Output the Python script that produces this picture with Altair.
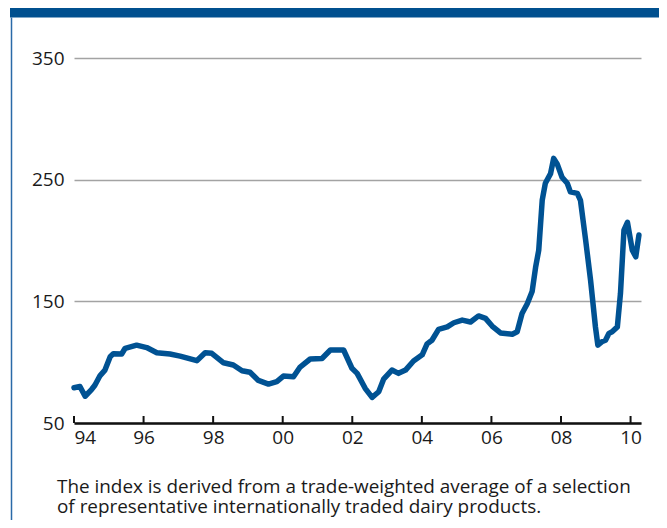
import altair as alt
import pandas as pd

# Dairy price index (decimal years)
years = [1994.00, 1994.17, 1994.32, 1994.51, 1994.60, 1994.75, 1994.89, 1995.04, 1995.13, 1995.37,
         1995.47, 1995.80, 1996.09, 1996.38, 1996.76, 1997.05, 1997.53, 1997.77, 1997.96, 1998.30,
         1998.58, 1998.83, 1999.06, 1999.30, 1999.59, 1999.83, 2000.02, 2000.31, 2000.50, 2000.79,
         2001.13, 2001.37, 2001.75, 2001.99, 2002.14, 2002.37, 2002.57, 2002.76, 2002.90, 2003.14,
         2003.33, 2003.53, 2003.76, 2004.01, 2004.15, 2004.29, 2004.48, 2004.73, 2004.92, 2005.16,
         2005.40, 2005.63, 2005.83, 2006.02, 2006.26, 2006.60, 2006.74, 2006.88, 2007.03, 2007.17,
         2007.27, 2007.36, 2007.46, 2007.55, 2007.70, 2007.79, 2007.89, 2008.03, 2008.18, 2008.27,
         2008.47, 2008.56, 2008.71, 2008.85, 2008.99, 2009.06, 2009.19, 2009.28, 2009.38, 2009.47,
         2009.62, 2009.71, 2009.81, 2009.91, 2010.05, 2010.15, 2010.24]
index = [79, 80, 72, 77.7, 81, 89, 93.5, 104.5, 107, 106.7,
         111.4, 114, 112, 107.8, 106.7, 105, 101.2, 107.8, 107.3, 99.5,
         97.7, 93, 91.7, 85, 82, 84, 88.6, 88, 96, 102.6,
         103, 110, 110, 95, 90.8, 78.5, 71, 75.7, 86, 93.5,
         90.8, 93.5, 101, 106, 115, 118, 127, 129, 132.4, 134.6,
         133, 138, 136, 129.7, 124, 123, 125, 140, 148, 158,
         178, 192, 233, 247, 255, 267.5, 263, 252, 247, 240,
         238.7, 233, 200, 167.5, 129, 114, 117, 118, 123.7, 125,
         129, 156.6, 208.6, 215, 192, 186.6, 204.5]

tick_years = list(range(1994, 2011, 2))
y_ticks = [50, 150, 250, 350]
caption = ["The index is derived from a trade-weighted average of a selection",
           "of representative internationally traded dairy products."]

FONT = "Open Sans"
DARK = "#00508f"
LINE = "#005293"

W, H = 567, 365
PAD_L, PAD_T = 66, 50

df = pd.DataFrame({"year": years, "index": index})
ticks_df = pd.DataFrame({"year": tick_years})
cap_df = pd.DataFrame({"text": caption, "row": [0, 1]})
one = pd.DataFrame({"a": [0]})

x_scale = alt.Scale(domain=[1994, 2010.3], nice=False, zero=False)
y_scale = alt.Scale(domain=[50, 350], nice=False, zero=False)

line = alt.Chart(df).mark_line(color=LINE, strokeWidth=5.5, strokeJoin="round", strokeCap="round").encode(
    x=alt.X("year:Q", scale=x_scale,
            axis=alt.Axis(values=tick_years, title=None, grid=False, ticks=False,
                          domain=True, domainColor="#111111", domainWidth=2.5,
                          labelPadding=5,
                          labelExpr="(datum.value % 100) < 10 ? '0' + (datum.value % 100) : '' + (datum.value % 100)")),
    y=alt.Y("index:Q", scale=y_scale,
            axis=alt.Axis(values=y_ticks, title=None, grid=True, gridColor="#a3a3a3", gridWidth=1.5,
                          ticks=False, domain=False, labelPadding=10)),
)

tick_marks = alt.Chart(ticks_df).mark_rule(color="#111111", strokeWidth=2).encode(
    x=alt.X("year:Q", scale=x_scale),
    y=alt.value(H - 7),
    y2=alt.value(H),
)

band = alt.Chart(one).mark_rect(color=DARK).encode(
    x=alt.value(-64), x2=alt.value(W + 30),
    y=alt.value(-PAD_T), y2=alt.value(-PAD_T + 9.5),
)

border = alt.Chart(one).mark_rule(color="#2a6aa8", strokeWidth=1.5).encode(
    x=alt.value(-62.5), y=alt.value(-PAD_T + 9.5), y2=alt.value(470),
)


def caption_line(row, ypix):
    return alt.Chart(cap_df).transform_filter(alt.datum.row == row).mark_text(
        align="left", baseline="alphabetic", font=FONT, fontSize=18.9, color="#1a1a1a"
    ).encode(x=alt.value(-17), y=alt.value(ypix), text="text:N")


cap1 = caption_line(0, H + 70)
cap2 = caption_line(1, H + 90)

chart = alt.layer(band, border, line, tick_marks, cap1, cap2).properties(
    width=W, height=H,
    autosize=alt.AutoSizeParams(type="none"),
    padding={"left": PAD_L, "top": PAD_T, "right": 18, "bottom": 97},
).configure_view(stroke=None).configure_axis(
    labelFont=FONT, labelFontSize=19, labelColor="#1a1a1a",
)

chart.save("out.html", embed_options={"renderer": "svg", "actions": False})
